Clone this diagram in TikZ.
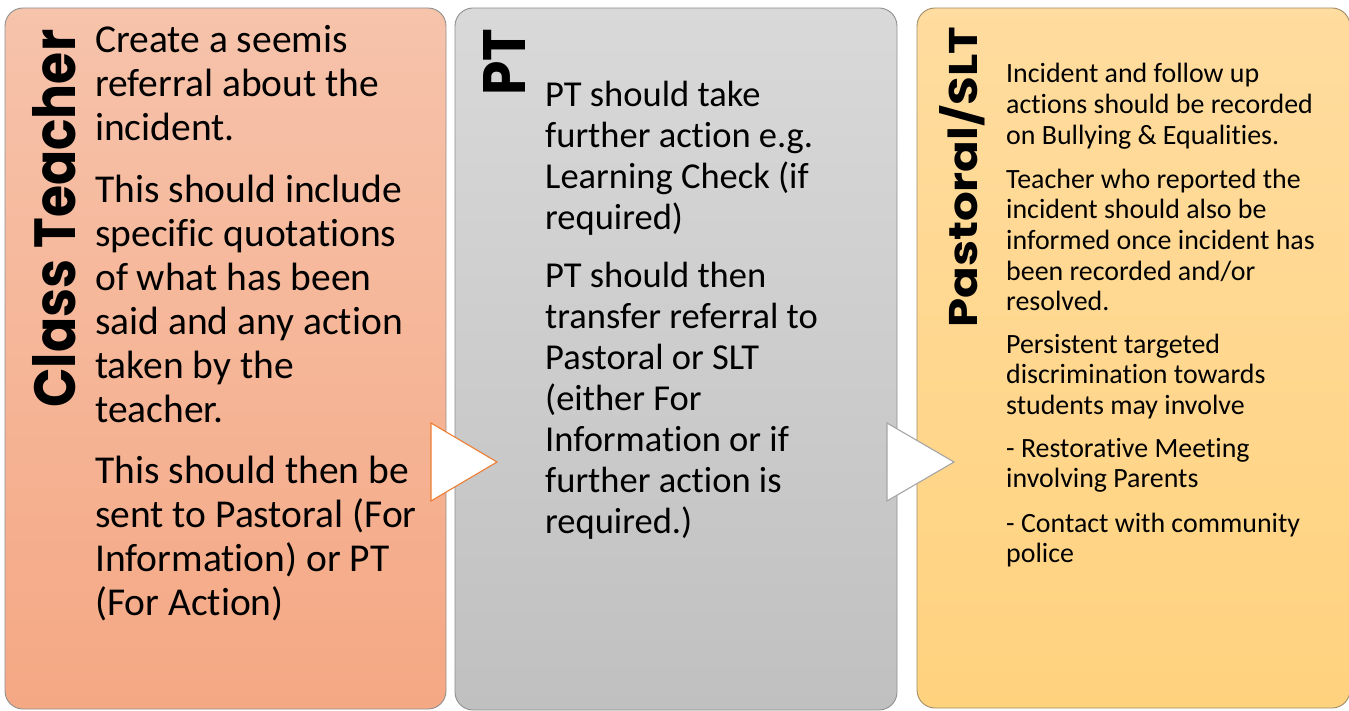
\documentclass[tikz,border=0pt]{standalone}
\usepackage{fontspec}
\usepackage{graphicx}
\setmainfont{Carlito}[RawFeature={-liga;-clig;-calt;-dlig}]
\newfontfamily\titlefont{Poppins}
\definecolor{orTop}{HTML}{F6C3AB}
\definecolor{orBot}{HTML}{F5A884}
\definecolor{grTop}{HTML}{D9D9D9}
\definecolor{grBot}{HTML}{C0C0C0}
\definecolor{yeTop}{HTML}{FFDC9F}
\definecolor{yeBot}{HTML}{FFD27E}
\definecolor{edgeGray}{HTML}{8F8F8F}
\definecolor{edgeYel}{HTML}{A08C68}
\definecolor{arrOrange}{HTML}{ED7D31}
\definecolor{arrGray}{HTML}{A5A5A5}
\begin{document}
\begin{tikzpicture}[x=1pt,y=-1pt,
  panel/.style={rounded corners=18pt, line width=0.9pt},
  chevron/.style={fill=white, line width=1.1pt, line join=miter},
  ptxt/.style={anchor=base west, inner sep=0pt, align=left, text=black},
  pa/.style={ptxt, font=\fontsize{39.5}{44}\selectfont},
  pb/.style={ptxt, font=\fontsize{36.5}{41}\selectfont},
  pc/.style={ptxt, font=\fontsize{27.9}{30.7}\selectfont},
  ttl/.style={rotate=90, anchor=base west, inner sep=0pt, text=black, font=\titlefont\bfseries}]
\useasboundingbox (0,0) rectangle (1349,711);
% panels
\shadedraw[panel, draw=edgeGray, top color=orTop, bottom color=orBot] (5,8) rectangle (446,709);
\shadedraw[panel, draw=edgeGray, top color=grTop, bottom color=grBot] (455,8) rectangle (897,710);
\shadedraw[panel, draw=edgeYel, top color=yeTop, bottom color=yeBot] (917,8) rectangle (1350,708);
% chevrons
\draw[chevron, draw=arrOrange] (431,423) -- (497,462) -- (431,501) -- cycle;
\draw[chevron, draw=arrGray] (887,423) -- (954,462) -- (887,501) -- cycle;
% titles
\node[ttl] (t1) at (75,408) {\resizebox{378pt}{43pt}{Class Teacher}};
\node[ttl] (t2) at (525,96) {\resizebox{67pt}{42pt}{PT}};
\node[ttl] (t3) at (977,328) {\resizebox{301pt}{38pt}{Pastoral/SLT}};
% panel 1 text (anchored at the baseline of the last line)
\node[pa] (a1) at (95,141) {Create a seemis\\referral about the\\incident.};
\node[pa] (a2) at (95,422) {This should include\\specific quotations\\of what has been\\said and any action\\taken by the\\teacher.};
\node[pa] (a3) at (95,615) {This should then be\\sent to Pastoral (For\\Information) or PT\\(For Action)};
% panel 2 text
\node[pb] (b1) at (545,230) {PT should take\\further action e.g.\\Learning Check (if\\required)};
\node[pb] (b2) at (545,533) {PT should then\\transfer referral to\\Pastoral or SLT\\(either For\\Information or if\\further action is\\required.)};
% panel 3 text
\node[pc] (c1) at (1006,144.4) {Incident and follow up\\actions should be recorded\\on Bullying \& Equalities.};
\node[pc] (c2) at (1006,310.8) {Teacher who reported the\\incident should also be\\informed once incident has\\been recorded and/or\\resolved.};
\node[pc] (c3) at (1006,414.4) {Persistent targeted\\discrimination towards\\students may involve};
\node[pc] (c4) at (1006,487.7) {- Restorative Meeting\\involving Parents};
\node[pc] (c5) at (1006,562.7) {- Contact with community\\police};
\end{tikzpicture}
\end{document}
